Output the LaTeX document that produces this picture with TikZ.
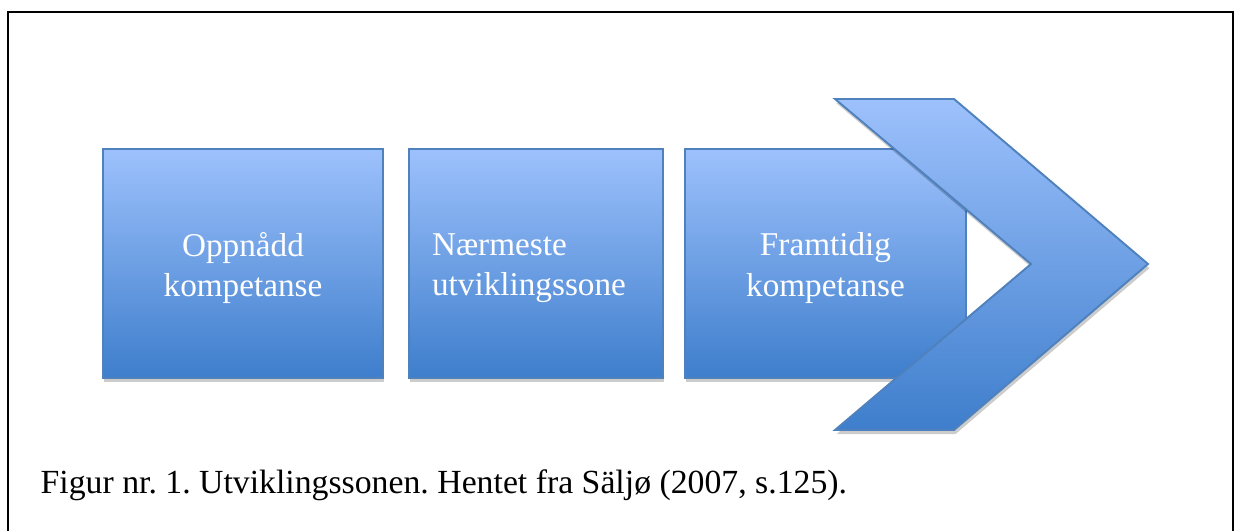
\documentclass[tikz,border=0pt]{standalone}
\usepackage{fontspec}
\setmainfont{Liberation Serif}
\usetikzlibrary{shadows}
\definecolor{boxtop}{RGB}{157,193,252}
\definecolor{boxbot}{RGB}{62,126,204}
\definecolor{boxline}{RGB}{79,129,189}
\tikzset{
  framestyle/.style={draw=black, line width=0.46pt},
  softshadow/.style={drop shadow={shadow xshift=0.4pt, shadow yshift=-1.2pt, opacity=0.2, fill=black}},
  stepbox/.style={draw=boxline, line width=0.55pt, top color=boxtop, bottom color=boxbot,
    minimum height=2.29cm, inner sep=0pt, softshadow},
  steptext/.style={inner sep=0pt, text=white, font=\fontsize{9.45}{11.4}\selectfont},
  chevron/.style={draw=boxline, line width=0.55pt, top color=boxtop, bottom color=boxbot, softshadow},
  captionstyle/.style={anchor=base west, inner sep=0pt, font=\fontsize{9.6}{11}\selectfont}
}
\begin{document}
\frenchspacing
\begin{tikzpicture}[x=0.01cm, y=-0.01cm]
\useasboundingbox (0,0) rectangle (1245,531);
\draw[framestyle] (8,531) -- (8,12) -- (1233,12) -- (1233,531);
\node[stepbox, minimum width=2.80cm] (b1) at (243,263.5) {};
\node[stepbox, minimum width=2.54cm] (b2) at (536,263.5) {};
\node[stepbox, minimum width=2.81cm] (b3) at (825.5,263.5) {};
\node[steptext, align=center] (t1) at ([yshift=-0.045cm]b1.center) {Oppnådd\\kompetanse};
\node[steptext, align=left] (t2) at ([yshift=-0.045cm, xshift=-0.07cm]b2.center) {Nærmeste\\utviklingssone};
\node[steptext, align=center] (t3) at ([yshift=-0.045cm]b3.center) {Framtidig\\kompetanse};
\draw[chevron] (835,99) -- (954,99) -- (1148,264) -- (954,430) -- (835,430) -- (1031,264) -- cycle;
\node[captionstyle] (cap) at (40,494) {Figur nr. 1. Utviklingssonen. Hentet fra Säljø (2007, s.125).};
\end{tikzpicture}
\end{document}
